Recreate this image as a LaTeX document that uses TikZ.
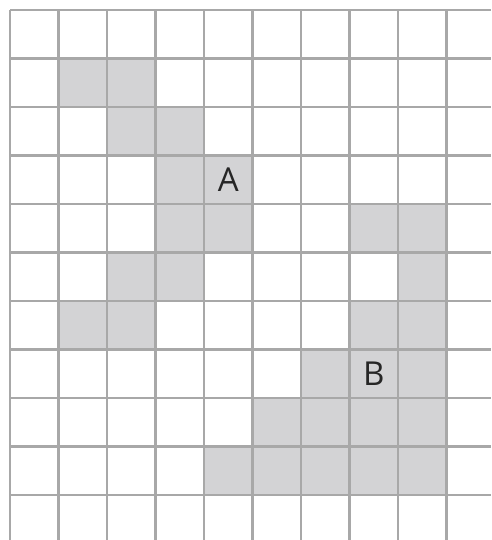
\documentclass[tikz,border=0pt]{standalone}
\usepackage{fontspec}
\setmainfont{Open Sans}
\definecolor{gridc}{HTML}{A8A8A8}
\definecolor{cellc}{HTML}{D3D3D5}
\tikzset{
  gridline/.style={draw=gridc, line width=2.4pt},
  cell/.style={fill=cellc},
  lbl/.style={font=\fontsize{33}{40}\selectfont, text=black!85}
}
\begin{document}
\begin{tikzpicture}[x=1pt,y=-1pt]
\useasboundingbox (0,0) rectangle (491,540);
\def\cs{48.5}
\foreach \c/\r in {1/1,2/1,2/2,3/2,3/3,4/3,3/4,4/4,7/4,8/4,2/5,3/5,8/5,1/6,2/6,7/6,8/6,6/7,7/7,8/7,5/8,6/8,7/8,8/8,4/9,5/9,6/9,7/9,8/9}{
  \fill[cell] ({10+\c*\cs},{10+\r*\cs}) rectangle ++(\cs,\cs);
}
\foreach \i in {0,...,9}{
  \draw[gridline] ({10+\i*\cs},10) -- ({10+\i*\cs},540);
}
\foreach \j in {0,...,10}{
  \draw[gridline] (10,{10+\j*\cs}) -- (491,{10+\j*\cs});
}
\node[lbl] (A) at ({10+4.5*\cs},{10+3.5*\cs}) {A};
\node[lbl] (B) at ({10+7.5*\cs},{10+7.5*\cs}) {B};
\end{tikzpicture}
\end{document}
